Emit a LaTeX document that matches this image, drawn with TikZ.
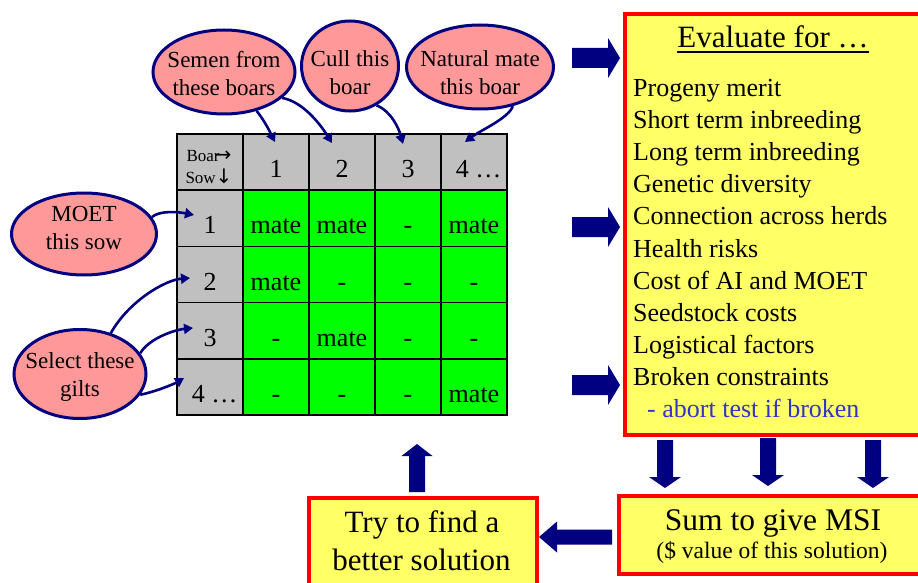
\documentclass[tikz,border=0pt]{standalone}
\usepackage{fontspec}
\setmainfont{Liberation Serif}
\newfontfamily\arrowfont{DejaVu Sans}
\usetikzlibrary{shapes.geometric,arrows.meta}
\definecolor{navy}{HTML}{000080}
\definecolor{bubblepink}{HTML}{FF9999}
\definecolor{boxyellow}{HTML}{FFFF66}
\definecolor{gridgrey}{HTML}{C0C0C0}
\definecolor{cellgreen}{HTML}{00FF00}
\definecolor{boxred}{HTML}{FF0000}
\definecolor{abortblue}{HTML}{3333CC}
\newcommand\btext[2]{\raisebox{#1}[\height][\depth]{\begin{tabular}{@{}c@{}}#2\end{tabular}}}
\tikzset{
  bubble/.style={ellipse, draw=navy, line width=3pt, fill=bubblepink,
    inner xsep=-40pt, inner ysep=-30pt, font=\fontsize{23}{28}\selectfont},
  cellbase/.style={rectangle, draw=black, line width=1.5pt, minimum width=66pt,
    minimum height=56.2pt, inner sep=0pt, font=\fontsize{26}{30}\selectfont,
    text height=31pt, text depth=0pt},
  gcell/.style={cellbase, fill=gridgrey},
  mcell/.style={cellbase, fill=cellgreen},
  redbox/.style={rectangle, draw=boxred, line width=4pt, fill=boxyellow, inner sep=0pt},
  evalitem/.style={anchor=base west, inner sep=0pt, font=\fontsize{26}{30}\selectfont},
  conn/.style={draw=navy, line width=2.6pt, -{Triangle[length=9pt,width=10pt]}},
  rarrow/.pic={\fill[navy] (0,-10) -- (36,-10) -- (36,-20) -- (48,0) -- (36,20) -- (36,10) -- (0,10) -- cycle;},
  darrow/.pic={\fill[navy] (-8,0) -- (8,0) -- (8,37) -- (16,37) -- (0,48) -- (-16,37) -- (-8,37) -- cycle;},
  larrow/.pic={\fill[navy] (0,0) -- (18,-15.5) -- (18,-7.5) -- (73,-7.5) -- (73,7.5) -- (18,7.5) -- (18,15.5) -- cycle;},
  uarrow/.pic={\fill[navy] (0,0) -- (15.5,12) -- (8,12) -- (8,48) -- (-8,48) -- (-8,12) -- (-15.5,12) -- cycle;}
}
\begin{document}
\begin{tikzpicture}[x=1pt,y=-1pt]
\useasboundingbox (0,0) rectangle (918,583);
\fill[white] (0,0) rectangle (918,583);

% grid
\node[gcell] (c00) at (210,162.1) {};
\node[gcell] (c01) at (276,162.1) {1};
\node[gcell] (c02) at (342,162.1) {2};
\node[gcell] (c03) at (408,162.1) {3};
\node[gcell] (c04) at (474,162.1) {\kern9pt 4 …};
\node[gcell] (c10) at (210,218.3) {1};
\node[gcell] (c20) at (210,274.5) {2};
\node[gcell] (c30) at (210,330.7) {3};
\node[gcell] (c40) at (210,386.9) {\kern9pt 4 …};
\node[mcell] (c11) at (276,218.3) {mate};
\node[mcell] (c12) at (342,218.3) {mate};
\node[mcell] (c13) at (408,218.3) {-};
\node[mcell] (c14) at (474,218.3) {mate};
\node[mcell] (c21) at (276,274.5) {mate};
\node[mcell] (c22) at (342,274.5) {-};
\node[mcell] (c23) at (408,274.5) {-};
\node[mcell] (c24) at (474,274.5) {-};
\node[mcell] (c31) at (276,330.7) {-};
\node[mcell] (c32) at (342,330.7) {mate};
\node[mcell] (c33) at (408,330.7) {-};
\node[mcell] (c34) at (474,330.7) {-};
\node[mcell] (c41) at (276,386.9) {-};
\node[mcell] (c42) at (342,386.9) {-};
\node[mcell] (c43) at (408,386.9) {-};
\node[mcell] (c44) at (474,386.9) {mate};
\node[align=center, inner sep=0pt, font=\fontsize{17}{22}\selectfont] (corner) at (209,167)
  {Boar\kern-5pt{\arrowfont\fontsize{20}{22}\selectfont →}\\Sow{\arrowfont\fontsize{20}{22}\selectfont ↓}};

% bubbles
\node[bubble, minimum width=142pt, minimum height=84pt] (semen) at (224,72) {\btext{-3.5pt}{Semen from\\these boars}};
\node[bubble, minimum width=97pt, minimum height=90pt] (cull) at (350,66) {\btext{-8.5pt}{Cull this\\boar}};
\node[bubble, minimum width=147pt, minimum height=84pt] (natural) at (480,67) {\btext{-7.5pt}{Natural mate\\this boar}};
\node[bubble, minimum width=145pt, minimum height=82pt] (moet) at (84,234) {\btext{4.5pt}{MOET\\this sow}};
\node[bubble, minimum width=132pt, minimum height=89pt] (select) at (80,374) {\btext{-3pt}{Select these\\gilts}};

% connector targets
\coordinate (t1) at (275,142);
\coordinate (t2) at (332,143);
\coordinate (t3) at (403,144);
\coordinate (t4) at (465,142);
\coordinate (r1) at (194,215);
\coordinate (r2) at (190,278);
\coordinate (r3) at (193,328);
\coordinate (r4) at (184,378);

\draw[conn] (semen.-50) .. controls +(8,10) and +(-5,-10) .. (t1);
\draw[conn] (semen.-24) .. controls +(22,4) and +(-10,-16) .. (t2);
\draw[conn] (cull.-56) .. controls +(15,6) and +(-4,-15) .. (t3);
\draw[conn] (natural.-50) .. controls +(-4,12) and +(16,-12) .. (t4);
\draw[conn] (moet.14) .. controls +(8,-7) and +(-15,-3) .. (r1);
\draw[conn] (select.53) .. controls +(18,-32) and +(-25,2) .. (r2);
\draw[conn] (select.19) .. controls +(8,-14) and +(-20,2) .. (r3);
\draw[conn] (select.-19) .. controls +(15,-3) and +(-10,6) .. (r4);

% evaluate box
\node[redbox, anchor=north west, minimum width=302pt, minimum height=421pt] (eval) at (623,12) {};
\node[anchor=base, inner sep=0pt, font=\fontsize{31}{36}\selectfont] (title) at (773,48) {Evaluate for …};
\draw[line width=2pt] ([yshift=-4pt]title.base west) -- ([yshift=-4pt]title.base east);
\node[evalitem] (e1) at (633,96.5) {Progeny merit};
\node[evalitem] (e2) at (633,128.6) {Short term inbreeding};
\node[evalitem] (e3) at (633,160.7) {Long term inbreeding};
\node[evalitem] (e4) at (633,192.8) {Genetic diversity};
\node[evalitem] (e5) at (633,224.9) {Connection across herds};
\node[evalitem] (e6) at (633,257.0) {Health risks};
\node[evalitem] (e7) at (633,289.1) {Cost of AI and MOET};
\node[evalitem] (e8) at (633,321.2) {Seedstock costs};
\node[evalitem] (e9) at (633,353.3) {Logistical factors};
\node[evalitem] (e10) at (633,385.4) {Broken constraints};
\node[evalitem, text=abortblue] (e11) at (647,417.5) {- abort test if broken};

% sum box
\node[redbox, anchor=north west, minimum width=308pt, minimum height=78pt] (sum) at (617,493.5) {};
\node[anchor=base, inner sep=0pt, font=\fontsize{31.5}{36}\selectfont] (sumA) at (773,530) {Sum to give MSI};
\node[anchor=base, inner sep=0pt, font=\fontsize{23.5}{28}\selectfont] (sumB) at (772,558) {(\$ value of this solution)};

% try box
\node[redbox, anchor=north west, minimum width=228pt, minimum height=110pt] (try) at (307,496) {};
\node[anchor=base, inner sep=0pt, font=\fontsize{31}{36}\selectfont] (tryA) at (422,532) {Try to find a};
\node[anchor=base, inner sep=0pt, font=\fontsize{31}{36}\selectfont] (tryB) at (421.5,570) {better solution};

% block arrows
\pic at (572,58) {rarrow};
\pic at (572,227) {rarrow};
\pic at (572,385) {rarrow};
\pic at (665,440) {darrow};
\pic at (768,438) {darrow};
\pic at (873,440) {darrow};
\pic at (539,537) {larrow};
\pic at (417,444) {uarrow};
\end{tikzpicture}
\end{document}
